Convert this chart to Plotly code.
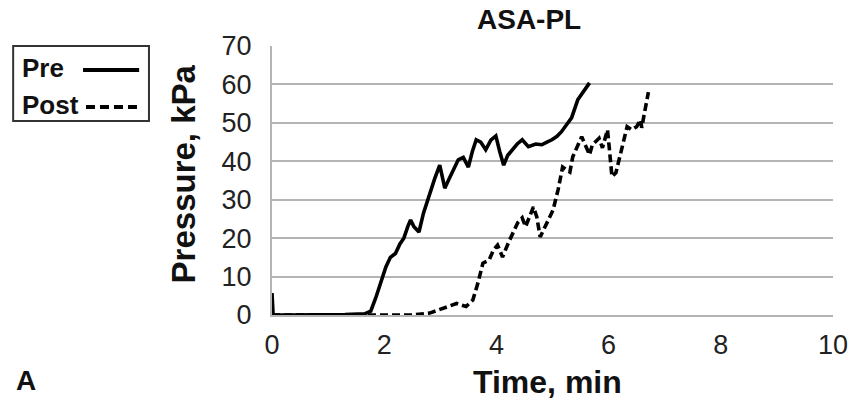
import plotly.graph_objects as go

# ---- data ----
pre_t = [0, 0.02, 0.3, 0.8, 1.3, 1.65, 1.76, 1.85, 1.93, 2.03, 2.11, 2.2, 2.28, 2.35, 2.42,
         2.47, 2.53, 2.62, 2.7, 2.81, 2.9, 2.99, 3.08, 3.16, 3.23, 3.32, 3.41, 3.5, 3.57,
         3.64, 3.72, 3.81, 3.9, 3.99, 4.06, 4.13, 4.2, 4.29, 4.37, 4.46, 4.57, 4.7, 4.81,
         4.9, 4.99, 5.08, 5.16, 5.25, 5.34, 5.45, 5.57, 5.66]
pre_p = [5.7, 0, 0, 0, 0.1, 0.3, 1, 4.5, 8.3, 12.5, 15, 16, 18.5, 20, 23,
         24.7, 23, 21.6, 26.5, 31.8, 35.5, 39, 33, 35.5, 37.8, 40.4, 41, 38.5, 42.5,
         45.6, 45, 43, 45.5, 46.6, 42.5, 39, 41.5, 43, 44.5, 45.6, 43.8, 44.5, 44.3,
         45, 45.6, 46.5, 47.7, 49.5, 51.3, 56, 58.6, 60.4]

post_t = [0, 0.5, 1.0, 1.5, 2.0, 2.5, 2.81, 3.05, 3.29, 3.46, 3.58, 3.67, 3.76, 3.87,
          3.95, 4.02, 4.11, 4.22, 4.38, 4.46, 4.52, 4.66, 4.72, 4.78, 4.9, 5.01, 5.1,
          5.18, 5.31, 5.36, 5.52, 5.66, 5.71, 5.83, 5.89, 5.98, 6.01, 6.06, 6.13, 6.22,
          6.33, 6.41, 6.5, 6.57, 6.59, 6.66, 6.71]
post_p = [0, 0, 0, 0, 0, 0, 0.5, 1.8, 3, 2.2, 3.9, 8.3, 13.5, 14.3,
          17, 18.2, 15.1, 19, 24, 25.3, 23, 28.1, 25.5, 20.3, 24, 27.3, 32.6,
          38.5, 37.2, 41.1, 46.4, 41.7, 44.3, 46, 43.5, 48.2, 43.8, 36, 37, 42.2,
          49, 48.2, 49, 50.8, 48.7, 54.2, 58]

x_ticks = [0, 2, 4, 6, 8, 10]
y_ticks = [0, 10, 20, 30, 40, 50, 60, 70]
series_names = ["Pre", "Post"]
title_text = "ASA-PL"
x_title = "Time, min"
y_title = "Pressure, kPa"
panel_label = "A"

# ---- layout geometry (pixels) ----
W, H = 860, 404
L, R, T, B = 272, 18, 46, 89
PW, PH = W - L - R, H - T - B


def px(xp):
    return (xp - L) / PW


def py(yp):
    return (H - B - yp) / PH


FONT = "Liberation Sans, Arial, sans-serif"
INK = "#111111"
GRID = "#b4b4b4"

fig = go.Figure()
fig.add_trace(go.Scatter(x=pre_t, y=pre_p, mode="lines", name=series_names[0],
                         line=dict(color="black", width=3.6), showlegend=False))
fig.add_trace(go.Scatter(x=post_t, y=post_p, mode="lines", name=series_names[1],
                         line=dict(color="black", width=3.6, dash="8px,4px"),
                         showlegend=False))

fig.update_layout(
    width=W, height=H,
    margin=dict(l=L, r=R, t=T, b=B, pad=0),
    paper_bgcolor="white", plot_bgcolor="white",
    font=dict(family=FONT, color=INK),
)
fig.update_xaxes(range=[0, 10], tickvals=x_ticks, ticks="", showgrid=False,
                 zeroline=False, showline=True, linecolor=GRID, linewidth=2,
                 tickfont=dict(size=27, color="#222"), ticklabelstandoff=5)
fig.update_yaxes(range=[0, 70], tickvals=y_ticks, ticks="", showgrid=True,
                 gridcolor=GRID, gridwidth=2, zeroline=False, showline=True,
                 linecolor=GRID, linewidth=2,
                 tickfont=dict(size=27, color="#222"), ticklabelstandoff=13)

ann = []
ann.append(dict(text="<b>%s</b>" % title_text, x=px(533), y=py(19), xref="paper",
                yref="paper", showarrow=False, xanchor="center", yanchor="middle",
                font=dict(size=28, color=INK)))
ann.append(dict(text="<b>%s</b>" % x_title, x=px(552), y=py(382), xref="paper",
                yref="paper", showarrow=False, xanchor="center", yanchor="middle",
                font=dict(size=32, color=INK)))
ann.append(dict(text="<b>%s</b>" % y_title, x=px(182), y=py(174), xref="paper",
                yref="paper", showarrow=False, xanchor="center", yanchor="middle",
                textangle=-90, font=dict(size=33, color=INK)))
ann.append(dict(text="<b>%s</b>" % panel_label, x=px(22), y=py(380), xref="paper",
                yref="paper", showarrow=False, xanchor="center", yanchor="middle",
                font=dict(size=28, color=INK)))
# manual legend: text then line sample
ann.append(dict(text="<b>%s</b>" % series_names[0], x=px(16), y=py(68), xref="paper",
                yref="paper", showarrow=False, xanchor="left", yanchor="middle",
                font=dict(size=26, color=INK)))
ann.append(dict(text="<b>%s</b>" % series_names[1], x=px(16), y=py(105), xref="paper",
                yref="paper", showarrow=False, xanchor="left", yanchor="middle",
                font=dict(size=26, color=INK)))
fig.update_layout(annotations=ann)

shapes = [
    dict(type="rect", xref="paper", yref="paper", x0=px(9), x1=px(147), y0=py(46),
         y1=py(121), line=dict(color="#333", width=2), fillcolor="rgba(0,0,0,0)"),
    dict(type="line", xref="paper", yref="paper", x0=px(80), x1=px(137), y0=py(70),
         y1=py(70), line=dict(color="black", width=3.8)),
    dict(type="line", xref="paper", yref="paper", x0=px(83), x1=px(137), y0=py(107),
         y1=py(107), line=dict(color="black", width=3.8, dash="9px,5px")),
]
fig.update_layout(shapes=shapes)

fig.write_html("out.html")
